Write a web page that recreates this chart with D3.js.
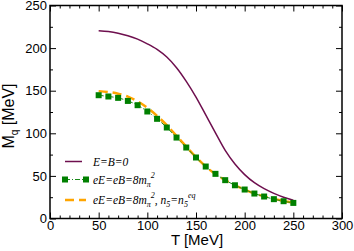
<!DOCTYPE html>
<html>
<head>
<meta charset="utf-8"/>
<script src="https://cdn.jsdelivr.net/npm/d3@7/dist/d3.min.js"></script>
<style>
  html, body { margin:0; padding:0; background:#fff; }
  svg { display:block; }
  .tick text { font-family:"Liberation Sans", Arial, sans-serif; font-size:13px; fill:#000; }
</style>
</head>
<body>
<svg width="354" height="251"></svg>
<script>
// temperatures (MeV)
const T = [50,60,70,80,90,100,110,120,130,140,150,160,170,180,190,200,210,220,230,240,250];
// E=B=0
const mFree = [220.5,219.5,217.5,214.5,210.5,205,198.5,189.5,177,161,142.5,121.5,100.5,80,64,51.5,42,35,29.5,25,21.5];
// eE=eB=8 m_pi^2
const mField = [144.7,143.2,141.6,138,133,125.6,117,106.8,95,83.3,71.6,61,52.4,45,39,34,29.3,25.8,22.7,20.3,18.3];
// eE=eB=8 m_pi^2, n5 = n5^eq
const mEq = [149.5,148.5,146.5,143,137.5,130,120.5,109.5,97,84.5,72,61,52,45,39,34,29.5,26,23,20.5,18.5];

const xTicks = [0,50,100,150,200,250,300];
const yTicks = [0,50,100,150,200,250];

const svg = d3.select("svg");
const L = 50, R = 342, TOP = 5.5, B = 218.5;

const x = d3.scaleLinear().domain([0,300]).range([L,R]);
const y = d3.scaleLinear().domain([0,250]).range([B,TOP]);

// minor ticks
const xMinor = d3.range(0,301,10).filter(v => v%50);
const yMinor = d3.range(25,250,50);

function tickset(axisFn, scale, vals, len, pos) {
  return svg.append("g").attr("transform", pos)
    .call(axisFn(scale).tickValues(vals).tickSize(len).tickFormat(""))
    .call(s => s.select(".domain").remove())
    .call(s => s.selectAll("line").attr("stroke","#000").attr("stroke-width",1));
}
// inward ticks on all 4 sides
tickset(d3.axisTop, x, xTicks, 6, `translate(0,${B})`);
tickset(d3.axisTop, x, xMinor, 3, `translate(0,${B})`);
tickset(d3.axisBottom, x, xTicks, 6, `translate(0,${TOP})`);
tickset(d3.axisBottom, x, xMinor, 3, `translate(0,${TOP})`);
tickset(d3.axisRight, y, yTicks, 6, `translate(${L},0)`);
tickset(d3.axisRight, y, yMinor, 3, `translate(${L},0)`);
tickset(d3.axisLeft, y, yTicks, 6, `translate(${R},0)`);
tickset(d3.axisLeft, y, yMinor, 3, `translate(${R},0)`);

// tick labels
svg.append("g").attr("transform", `translate(0,${B})`)
  .call(d3.axisBottom(x).tickValues(xTicks).tickSize(0).tickPadding(2))
  .call(s => s.select(".domain").remove());
svg.append("g").attr("transform", `translate(${L},0)`)
  .call(d3.axisLeft(y).tickValues(yTicks).tickSize(0).tickPadding(3))
  .call(s => s.select(".domain").remove());

// frame
svg.append("rect")
  .attr("x", L).attr("y", TOP).attr("width", R-L).attr("height", B-TOP)
  .attr("fill","none").attr("stroke","#000").attr("stroke-width",1.5);

const g = svg.append("g");
const line = d3.line().x((d,i) => x(T[i])).y(d => y(d)).curve(d3.curveCatmullRom);

g.append("path").datum(mFree).attr("d", line)
  .attr("fill","none").attr("stroke","#6e0f4e").attr("stroke-width",1.5);

g.append("path").datum(mEq).attr("d", line)
  .attr("fill","none").attr("stroke","#ffa500").attr("stroke-width",2.5)
  .attr("stroke-dasharray","9,5");

g.append("path").datum(mField).attr("d", line)
  .attr("fill","none").attr("stroke","#1a8a1a").attr("stroke-width",1)
  .attr("stroke-dasharray","5,2,1,2");

g.selectAll("rect.sq").data(mField).join("rect").attr("class","sq")
  .attr("x",(d,i) => x(T[i])-3).attr("y", d => y(d)-3)
  .attr("width",6).attr("height",6).attr("fill","#008000");

// legend
const leg = svg.append("g");
const lx1 = 65, lx2 = 86, tx = 93;
const ly = [161.5, 179.5, 200];
leg.append("line").attr("x1",lx1).attr("x2",lx2-4).attr("y1",ly[0]).attr("y2",ly[0])
  .attr("stroke","#6e0f4e").attr("stroke-width",1.5);
leg.append("line").attr("x1",lx1).attr("x2",lx2).attr("y1",ly[1]).attr("y2",ly[1])
  .attr("stroke","#1a8a1a").attr("stroke-width",1).attr("stroke-dasharray","5,2,1,2");
[lx1, lx2].forEach(v => leg.append("rect").attr("x",v-3).attr("y",ly[1]-3)
  .attr("width",6).attr("height",6).attr("fill","#008000"));
leg.append("line").attr("x1",lx1).attr("x2",lx2).attr("y1",ly[2]).attr("y2",ly[2])
  .attr("stroke","#ffa500").attr("stroke-width",2.5).attr("stroke-dasharray","9,5");

const lt = leg.append("g").attr("font-family","'Liberation Serif', 'Times New Roman', serif")
  .attr("font-style","italic").attr("font-size",11.5).attr("fill","#000");
lt.append("text").attr("x",tx).attr("y",ly[0]+4).text("E=B=0");
const t2 = lt.append("text").attr("x",tx).attr("y",ly[1]+4);
t2.append("tspan").text("eE=eB=8m");
t2.append("tspan").attr("font-size",8).attr("dy",3).text("π");
t2.append("tspan").attr("font-size",8).attr("dy",-9).text("2");
const t3 = lt.append("text").attr("x",tx).attr("y",ly[2]+4);
t3.append("tspan").text("eE=eB=8m");
t3.append("tspan").attr("font-size",8).attr("dy",3).text("π");
t3.append("tspan").attr("font-size",8).attr("dy",-9).text("2");
t3.append("tspan").attr("dy",6).text(", n");
t3.append("tspan").attr("font-size",8).attr("dy",3).text("5");
t3.append("tspan").attr("dy",-3).text("=n");
t3.append("tspan").attr("font-size",8).attr("dy",3).text("5");
t3.append("tspan").attr("font-size",8).attr("dy",-9).text("eq");

// axis titles
svg.append("text").attr("x",197).attr("y",245).attr("text-anchor","middle")
  .attr("font-family","'Liberation Sans', Arial, sans-serif").attr("font-size",15)
  .text("T [MeV]");
const yl = svg.append("text").attr("transform","translate(14,116) rotate(-90)")
  .attr("text-anchor","middle")
  .attr("font-family","'Liberation Sans', Arial, sans-serif").attr("font-size",16);
yl.append("tspan").text("M");
yl.append("tspan").attr("font-size",10).attr("dy",4).text("q");
yl.append("tspan").attr("dy",-4).text(" [MeV]");
</script>
</body>
</html>
